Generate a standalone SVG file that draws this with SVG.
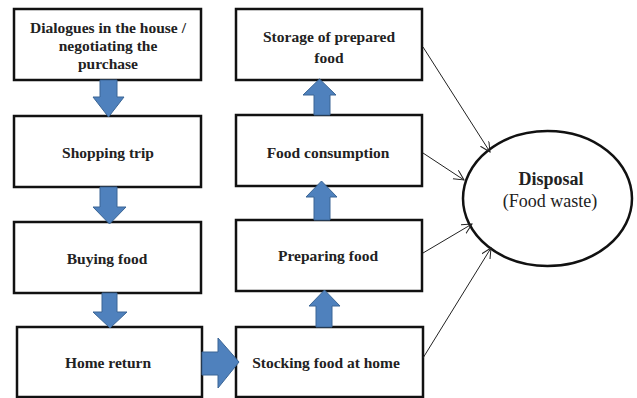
<svg xmlns="http://www.w3.org/2000/svg" width="637" height="398" viewBox="0 0 637 398">
<style>
.box{fill:#fff;stroke:#111;stroke-width:2.5}
.t{font-family:"Liberation Serif","Times New Roman",serif;font-size:15.5px;font-weight:bold;text-anchor:middle;fill:#222}
.e{font-family:"Liberation Serif","Times New Roman",serif;font-size:18px;text-anchor:middle;fill:#222}
.blk{fill:#4F81BD;stroke:#3A6595;stroke-width:1}
.con{fill:none;stroke:#222;stroke-width:1}
</style>
<defs>
<marker id="ah" markerWidth="12" markerHeight="12" refX="10" refY="5" orient="auto" markerUnits="userSpaceOnUse">
<path d="M0,0 L10,5 L0,10" fill="none" stroke="#222" stroke-width="1"/>
</marker>
</defs>
<rect width="637" height="398" fill="#fff"/>
<g id="n1"><rect class="box" x="14" y="9" width="187" height="71"/>
<text class="t" x="108" y="33">Dialogues in the house /</text>
<text class="t" x="108" y="51">negotiating the</text>
<text class="t" x="108" y="69">purchase</text></g>
<g id="n2"><rect class="box" x="14" y="116" width="187" height="71"/><text class="t" x="108" y="158">Shopping trip</text></g>
<g id="n3"><rect class="box" x="14" y="222" width="187" height="71"/><text class="t" x="107" y="264">Buying food</text></g>
<g id="n4"><rect class="box" x="17" y="327" width="185" height="70"/><text class="t" x="108" y="368">Home return</text></g>
<g id="n5"><rect class="box" x="236" y="9" width="186" height="71"/>
<text class="t" x="329" y="42">Storage of prepared</text>
<text class="t" x="329" y="63">food</text></g>
<g id="n6"><rect class="box" x="236" y="115" width="186" height="71"/><text class="t" x="328" y="158">Food consumption</text></g>
<g id="n7"><rect class="box" x="236" y="220" width="186" height="71"/><text class="t" x="328" y="261">Preparing food</text></g>
<g id="n8"><rect class="box" x="236" y="327" width="187" height="70"/><text class="t" x="326" y="368">Stocking food at home</text></g>
<g id="n9"><ellipse cx="547.5" cy="198.5" rx="84.5" ry="67.5" fill="#fff" stroke="#111" stroke-width="2.5"/>
<text class="e" x="551" y="185" font-weight="bold">Disposal</text>
<text class="e" x="550" y="207">(Food waste)</text></g>
<g id="connectors">
<path class="blk" d="M100,80 H117 V97 H124 L108.5,117 L93,97 H100 Z"/>
<path class="blk" d="M100,187 H117 V207 H126 L109.5,224 L93,207 H100 Z"/>
<path class="blk" d="M102,293 H117 V312 H127 L110,328 L93,312 H102 Z"/>
<path class="blk" d="M314,115 H330 V95 H336 L319.5,79 L303,95 H314 Z"/>
<path class="blk" d="M314,220 H330 V197 H337 L321.5,181 L306,197 H314 Z"/>
<path class="blk" d="M316,327 H332 V306 H340 L324.5,290 L309,306 H316 Z"/>
<path class="blk" d="M202,352 H218 V338 L239,362 L218,388 V375 H202 Z"/>
<line class="con" x1="423" y1="47" x2="490" y2="152" marker-end="url(#ah)"/>
<line class="con" x1="423" y1="153" x2="464" y2="180" marker-end="url(#ah)"/>
<line class="con" x1="423" y1="253" x2="472" y2="224" marker-end="url(#ah)"/>
<line class="con" x1="423" y1="358" x2="491" y2="248" marker-end="url(#ah)"/>
</g>
</svg>
